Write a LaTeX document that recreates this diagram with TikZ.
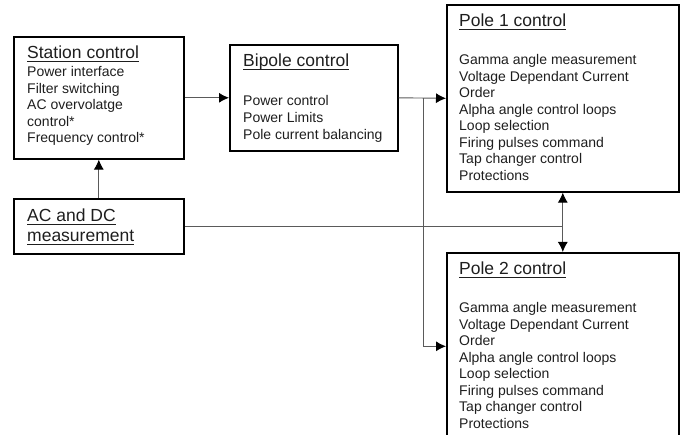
\documentclass[tikz,border=0pt]{standalone}
\usepackage{fontspec}
\setmainfont{Liberation Sans}
\usetikzlibrary{calc}
\usetikzlibrary{arrows.meta}
\definecolor{text-grey}{RGB}{30, 30, 30}
\definecolor{line-grey}{RGB}{90, 90, 90}
\newcommand{\ulhead}[1]{\setbox0\hbox{#1}\rlap{\vrule height -2pt depth 3pt width \wd0}\box0}

\begin{document}
\begin{tikzpicture}[x=1pt, y=-1pt,
    box/.style={draw=black, line width=1.6pt, anchor=north west, inner sep=0pt},
    head/.style={anchor=base west, inner sep=0pt, text=text-grey, font=\fontsize{17.5}{20}\selectfont},
    item/.style={anchor=base west, inner sep=0pt, text=text-grey, font=\fontsize{14}{16.5}\selectfont},
    link/.style={draw=line-grey, line width=0.9pt},
    arr/.style={link, -{Latex[length=10pt,width=10pt,color=black]}},
    arrs/.style={link, {Latex[length=10pt,width=10pt,color=black]}-{Latex[length=10pt,width=10pt,color=black]}}]
\useasboundingbox (0,0) rectangle (683,435);
\node[box, minimum width=170pt, minimum height=122pt] (station) at (13,36) {};
\node[box, minimum width=170pt, minimum height=55pt] (meas) at (13,198) {};
\node[box, minimum width=168pt, minimum height=106pt] (bipole) at (229,44) {};
\node[box, minimum width=232pt, minimum height=187pt] (pole1) at (446,4) {};
\node[box, minimum width=232pt, minimum height=187pt] (pole2) at (446,252) {};
\node[head] (station-t) at ([shift={(14,23)}]station.north west) {\ulhead{Station control}};
\foreach \t [count=\i] in {Power interface, Filter switching, AC overvolatge, control*, Frequency control*}
    \node[item] (station-\i) at ([shift={(14,{41+16.5*(\i-1)})}]station.north west) {\t};
\node[head] (meas-t) at ([shift={(14,24)}]meas.north west) {\ulhead{AC and DC}};
\node[head] (meas-u) at ([shift={(14,44)}]meas.north west) {\ulhead{measurement}};
\node[head] (bipole-t) at ([shift={(14,23)}]bipole.north west) {\ulhead{Bipole control}};
\foreach \t [count=\i] in {Power control, Power Limits, Pole current balancing}
    \node[item] (bipole-\i) at ([shift={(14,{62+16.8*(\i-1)})}]bipole.north west) {\t};
\foreach \p in {1,2} {
    \node[head] (pole\p-t) at ([shift={(13,23)}]pole\p.north west) {\ulhead{Pole \p\ control}};
    \foreach \t [count=\i] in {Gamma angle measurement, Voltage Dependant Current, Order, Alpha angle control loops, Loop selection, Firing pulses command, Tap changer control, Protections}
        \node[item] (pole\p-\i) at ([shift={(13,{61+16.5*(\i-1)})}]pole\p.north west) {\t};
}
\draw[arr] (station.east) -- (bipole.west);
\draw[arr] (meas.north) -- (station.south);
\draw[arr] (bipole.east) -- (pole1.west);
\coordinate (tap) at ($(bipole.east)!0.53!(pole1.west)$);
\draw[arr] (tap) |- (pole2.west);
\draw[arrs] (pole1.south) -- (pole2.north);
\draw[link] (meas.east) -- (meas.east -| pole1.south);
\end{tikzpicture}
\end{document}
